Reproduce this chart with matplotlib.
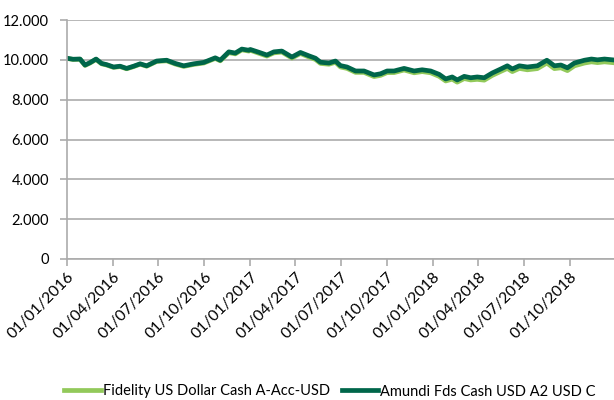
import pandas as pd
import numpy as np

import matplotlib
matplotlib.use('Agg')
import matplotlib.pyplot as plt
import matplotlib.dates as mdates
from matplotlib.ticker import FuncFormatter

plt.rcParams['font.family'] = ['Lato', 'DejaVu Sans']

# values (growth of 10.000)
dates = ['2016-01-01', '2016-01-13', '2016-01-27', '2016-02-06', '2016-02-16', '2016-02-28',
         '2016-03-10', '2016-03-20', '2016-04-03', '2016-04-16', '2016-04-29', '2016-05-13',
         '2016-05-26', '2016-06-08', '2016-06-28', '2016-07-18', '2016-08-04', '2016-08-21',
         '2016-09-10', '2016-09-30', '2016-10-23', '2016-11-02', '2016-11-19', '2016-12-02',
         '2016-12-15', '2016-12-29', '2017-01-01', '2017-01-18', '2017-02-03', '2017-02-17',
         '2017-03-05', '2017-03-25', '2017-04-11', '2017-04-28', '2017-05-11', '2017-05-21',
         '2017-06-07', '2017-06-20', '2017-06-30', '2017-07-13', '2017-07-30', '2017-08-16',
         '2017-09-05', '2017-09-18', '2017-10-01', '2017-10-15', '2017-11-04', '2017-11-24',
         '2017-12-10', '2017-12-27', '2018-01-13', '2018-01-26', '2018-02-08', '2018-02-18',
         '2018-03-04', '2018-03-17', '2018-03-30', '2018-04-13', '2018-04-29', '2018-05-16',
         '2018-05-29', '2018-06-08', '2018-06-22', '2018-07-08', '2018-07-28', '2018-08-16',
         '2018-08-31', '2018-09-13', '2018-09-26', '2018-10-10', '2018-10-30', '2018-11-13',
         '2018-11-25', '2018-12-09', '2018-12-25']

amundi = [10080, 10030, 10040, 9740, 9860, 10040,
          9820, 9760, 9640, 9680, 9570, 9680,
          9800, 9700, 9940, 9980, 9820, 9700,
          9800, 9870, 10100, 9980, 10400, 10340,
          10540, 10480, 10520, 10380, 10240, 10400,
          10440, 10140, 10370, 10200, 10080, 9880,
          9840, 9940, 9710, 9640, 9440, 9440,
          9240, 9300, 9440, 9440, 9570, 9440,
          9500, 9440, 9270, 9040, 9140, 8990,
          9170, 9100, 9140, 9100, 9340, 9540,
          9700, 9540, 9700, 9640, 9700, 9980,
          9700, 9740, 9600, 9840, 9980, 10040,
          10000, 10040, 10000]

fidelity = [10070, 10020, 10030, 9720, 9840, 10020,
            9800, 9740, 9620, 9660, 9550, 9660,
            9780, 9680, 9920, 9950, 9790, 9670,
            9770, 9840, 10070, 9950, 10360, 10300,
            10500, 10440, 10480, 10330, 10190, 10350,
            10390, 10090, 10320, 10140, 10020, 9820,
            9780, 9880, 9640, 9570, 9370, 9370,
            9160, 9220, 9360, 9360, 9490, 9350,
            9410, 9350, 9170, 8940, 9030, 8880,
            9060, 8990, 9020, 8980, 9220, 9420,
            9570, 9410, 9570, 9500, 9560, 9840,
            9560, 9600, 9460, 9700, 9840, 9900,
            9860, 9900, 9860]

tick_dates = ['2016-01-01', '2016-04-01', '2016-07-01', '2016-10-01',
              '2017-01-01', '2017-04-01', '2017-07-01', '2017-10-01',
              '2018-01-01', '2018-04-01', '2018-07-01', '2018-10-01']

labels = ['Fidelity US Dollar Cash A-Acc-USD', 'Amundi Fds Cash USD A2 USD C']

df = pd.DataFrame({'fidelity': fidelity, 'amundi': amundi}, index=pd.to_datetime(dates))

grey = '#ABABAB'

fig = plt.figure(figsize=(6.14, 4.0), dpi=100)
ax = fig.add_axes([67 / 614, 141 / 400, 549 / 614, 239 / 400])

ax.plot(df.index, df.fidelity, color='#92C95A', lw=3.4, label=labels[0], solid_joinstyle='round')
ax.plot(df.index, df.amundi, color='#00664A', lw=3.4, label=labels[1], solid_joinstyle='round')

ax.set_ylim(0, 12000)
ax.set_yticks(np.arange(0, 12001, 2000))
ax.yaxis.set_major_formatter(FuncFormatter(lambda v, p: f'{v:,.0f}'.replace(',', '.')))
ax.set_xlim(pd.Timestamp('2016-01-01'), pd.Timestamp('2019-01-01'))
ax.set_xticks(pd.to_datetime(tick_dates))
ax.xaxis.set_major_formatter(mdates.DateFormatter('%d/%m/%Y'))

ax.grid(axis='y', color=grey, lw=1.2)
ax.set_axisbelow(True)
for s in ['top', 'right']:
    ax.spines[s].set_visible(False)
for s in ['left', 'bottom']:
    ax.spines[s].set_color(grey)
    ax.spines[s].set_linewidth(1.2)

ax.tick_params(axis='both', colors=grey, length=5, width=1.2, labelcolor='black', labelsize=10.5)
ax.tick_params(axis='x', labelsize=11.3, pad=3)
ax.tick_params(axis='y', pad=8)
for lab in ax.get_xticklabels():
    lab.set_rotation(45)
    lab.set_ha('right')
    lab.set_rotation_mode('anchor')

fig.legend(loc='center', bbox_to_anchor=(330 / 614, 8.5 / 400), ncol=2, frameon=False,
           fontsize=10.5, handlelength=2.5, handletextpad=0.15, columnspacing=0.8)

fig.savefig('out.png', dpi=100)
